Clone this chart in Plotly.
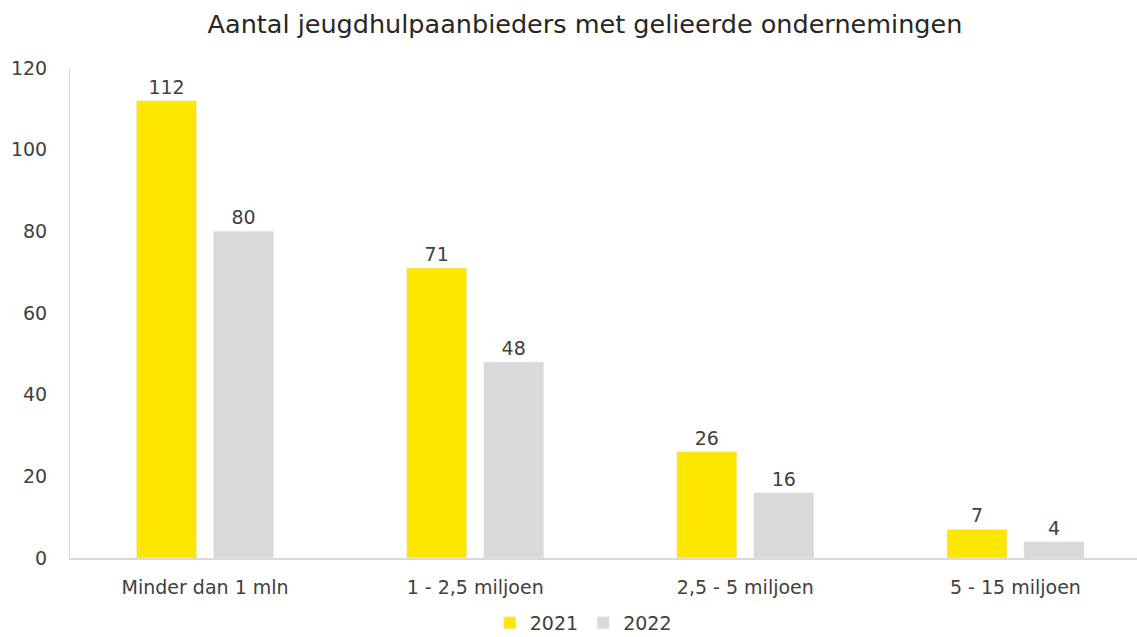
import plotly.graph_objects as go

categories = ["Minder dan 1 mln", "1 - 2,5 miljoen", "2,5 - 5 miljoen", "5 - 15 miljoen"]
values_2021 = [112, 71, 26, 7]
values_2022 = [80, 48, 16, 4]
y_ticks = [0, 20, 40, 60, 80, 100, 120]

FONT = "DejaVu Sans"
TEXT = "#404040"
LABEL_SIZE = 19

fig = go.Figure()
fig.add_trace(go.Bar(
    name="2021", x=categories, y=values_2021,
    marker_color="#FFE600",
    text=[str(v) for v in values_2021], textposition="outside",
    textfont=dict(size=LABEL_SIZE, color=TEXT, family=FONT),
    cliponaxis=False,
))
fig.add_trace(go.Bar(
    name="2022", x=categories, y=values_2022,
    marker_color="#D9D9D9",
    text=[str(v) for v in values_2022], textposition="outside",
    textfont=dict(size=LABEL_SIZE, color=TEXT, family=FONT),
    cliponaxis=False,
))

fig.update_layout(
    width=1137, height=637,
    paper_bgcolor="white", plot_bgcolor="white",
    font=dict(family=FONT, size=LABEL_SIZE, color=TEXT),
    title=dict(text="Aantal jeugdhulpaanbieders met gelieerde ondernemingen",
               x=0.5145, xanchor="center", y=0.962, yanchor="middle",
               font=dict(size=25.5, color="#262626", family=FONT)),
    margin=dict(l=70, r=0, t=68, b=79),
    barmode="group", bargap=0.43, bargroupgap=0.221,
    showlegend=True,
    legend=dict(orientation="h", xref="container", x=0.513, xanchor="center",
                yref="container", y=0.022, yanchor="middle",
                font=dict(size=LABEL_SIZE, color=TEXT, family=FONT),
                itemwidth=30, traceorder="normal"),
)
fig.update_xaxes(
    type="category", range=[-0.5, 3.45],
    showline=True, linecolor="#D9D9D9", linewidth=1.5,
    ticks="", showgrid=False, ticklabelstandoff=11,
    tickfont=dict(size=LABEL_SIZE, color=TEXT, family=FONT),
)
fig.update_yaxes(
    range=[0, 120], tickvals=y_ticks,
    showline=True, linecolor="#D9D9D9", linewidth=1,
    showgrid=False, zeroline=False, ticks="",
    ticklabelstandoff=18,
    tickfont=dict(size=LABEL_SIZE, color=TEXT, family=FONT),
)

fig.write_html("out.html")
